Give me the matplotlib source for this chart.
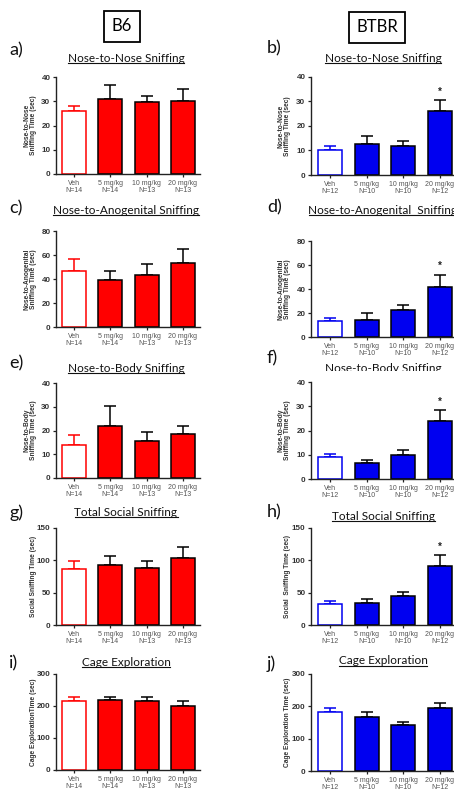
import matplotlib
matplotlib.use("Agg")
import matplotlib.pyplot as plt
from matplotlib.patches import Rectangle
from matplotlib.lines import Line2D

W, H = 454, 789

doses = ["Veh", "5 mg/kg", "10 mg/kg", "20 mg/kg"]
n_b6 = [14, 14, 13, 13]
n_btbr = [12, 10, 10, 12]

titles = ["Nose-to-Nose Sniffing", "Nose-to-Anogenital Sniffing", "Nose-to-Body Sniffing",
          "Total Social Sniffing", "Cage Exploration"]
titles_btbr = ["Nose-to-Nose Sniffing", "Nose-to-Anogenital  Sniffing", "Nose-to-Body Sniffing",
               "Total Social Sniffing", "Cage Exploration"]
ylabels_b6 = ["Nose-to-Nose\nSniffing Time (sec)", "Nose-to-Anogenital\nSniffing Time (sec)",
              "Nose-to-Body\nSniffing Time (sec)", "Social Sniffing Time (sec)",
              "Cage ExplorationTime (sec)"]
ylabels_btbr = ["Nose-to-Nose\nSniffing Time (sec)", "Nose-to-Anogenital\nSniffing Time (sec)",
                "Nose-to-Body\nSniffing Time (sec)", "Social  Sniffing Time (sec)",
                "Cage Exploration Time (sec)"]
ymax = [40, 80, 40, 150, 300]
ystep = [10, 20, 10, 50, 100]

b6_mean = [[26, 31, 29.5, 30], [46.5, 39.5, 43.5, 53.5], [14, 22, 15.5, 18.5],
           [87, 93, 88, 104], [217, 219, 217, 200]]
b6_sem = [[2, 5.5, 2.5, 5], [10, 7.5, 9, 11.5], [4, 8.5, 4, 3.5],
          [12, 13, 11, 16], [12, 10, 10, 16]]
btbr_mean = [[10, 12.5, 12, 26], [13.5, 14.5, 22.5, 42], [9, 6.5, 9.8, 24],
             [33, 33.5, 44.5, 92], [181, 168, 142, 195]]
btbr_sem = [[2, 3.5, 2, 4.5], [2, 5.5, 4.5, 10], [1.5, 1.3, 2.2, 4.5],
            [4, 7, 6.5, 16], [13, 13, 11, 15]]
btbr_sig = [[0, 0, 0, 1], [0, 0, 0, 1], [0, 0, 0, 1], [0, 0, 0, 1], [0, 0, 0, 0]]

letters_b6 = ["a)", "c)", "e)", "g)", "i)"]
letters_btbr = ["b)", "d)", "f)", "h)", "j)"]

# layout in pixels: (top, bottom) of each axes
rows_b6 = [(77, 174), (231, 327), (383, 478), (528, 625), (674, 770)]
rows_btbr = [(77, 175), (241, 337), (382, 479), (528, 625), (674, 771)]
title_y_b6 = [58, 210, 368, 512, 662]
title_y_btbr = [58, 210, 369, 516, 661]
letter_y_b6 = [50, 208, 363, 513, 663]
letter_y_btbr = [48, 207, 358, 512, 664]

RED = "#FF0000"
BLUE = "#0000F0"
SANS = ["Liberation Sans", "DejaVu Sans"]
CAL = ["Lato", "DejaVu Sans"]

fig = plt.figure(figsize=(W / 100, H / 100), dpi=100)
fig.patch.set_facecolor("white")


def fx(px):
    return px / W


def fy(py):
    return 1 - py / H


def panel(left, right, top, bottom, xlo, xhi, means, sems, color, ns, ymx, ystp, ylabel, labx, sig):
    ax = fig.add_axes([fx(left), fy(bottom), (right - left) / W, (bottom - top) / H])
    x = list(range(len(means)))
    for i, (m, s) in enumerate(zip(means, sems)):
        if i == 0:
            ax.bar(i, m, width=0.66, color="white", edgecolor=color, linewidth=1.1, zorder=2)
            ec = color
        else:
            ax.bar(i, m, width=0.66, color=color, edgecolor="black", linewidth=1.1, zorder=2)
            ec = "black"
        ax.errorbar(i, m, yerr=[[0], [s]], fmt="none", ecolor=ec, elinewidth=1.1,
                    capsize=4, capthick=1.1, zorder=1)
        if sig[i]:
            ax.text(i, m + s + ymx * 0.035, "*", ha="center", va="bottom",
                    fontsize=7, fontweight="bold", family=SANS, color="#222222")
    ax.set_xlim(xlo, xhi)
    ax.set_ylim(0, ymx)
    ax.set_yticks(list(range(0, ymx + 1, ystp)))
    ax.set_xticks(x)
    ax.set_xticklabels([f"{d}\nN={n}" for d, n in zip(doses, ns)], fontsize=5,
                       family=SANS, color="#555555", linespacing=1.15)
    for t in ax.get_yticklabels():
        t.set_fontsize(5.8)
        t.set_fontweight("bold")
        t.set_family(SANS)
        t.set_color("#333333")
    ax.tick_params(axis="both", length=2.5, width=0.9, pad=1.5, colors="#222222")
    ax.tick_params(axis="x", labelcolor="#555555")
    ax.tick_params(axis="y", labelcolor="#333333")
    for sp in ["top", "right"]:
        ax.spines[sp].set_visible(False)
    for sp in ["left", "bottom"]:
        ax.spines[sp].set_linewidth(1.0)
        ax.spines[sp].set_color("#222222")
    ax.set_ylabel(ylabel, fontsize=4.8, fontweight="bold", family=SANS, color="#333333",
                  linespacing=1.0)
    ax.yaxis.set_label_coords(labx, 0.5)
    return ax


title_texts = []
for k in range(5):
    t, b = rows_b6[k]
    panel(56, 200, t, b, -0.5, 3.47, b6_mean[k], b6_sem[k], RED, n_b6, ymax[k], ystep[k],
          ylabels_b6[k], -0.13, [0, 0, 0, 0])
    t, b = rows_btbr[k]
    panel(311, 457, t, b, -0.52, 3.47, btbr_mean[k], btbr_sem[k], BLUE, n_btbr, ymax[k], ystep[k],
          ylabels_btbr[k], -0.135, btbr_sig[k])

    title_texts.append(fig.text(fx(126), fy(title_y_b6[k]), titles[k], ha="center", va="center",
                                fontsize=8.5, family=CAL, color="#111111"))
    title_texts.append(fig.text(fx(383), fy(title_y_btbr[k]), titles_btbr[k], ha="center",
                                va="center", fontsize=8.5, family=CAL, color="#111111"))
    fig.text(fx(9), fy(letter_y_b6[k]), letters_b6[k], ha="left", va="center",
             fontsize=13, family=CAL, color="#111111")
    fig.text(fx(267), fy(letter_y_btbr[k]), letters_btbr[k], ha="left", va="center",
             fontsize=13, family=CAL, color="#111111")

# strain boxes
fig.text(fx(122), fy(26), "B6", ha="center", va="center", fontsize=12, family=CAL,
         bbox=dict(boxstyle="square,pad=0.45", fc="white", ec="black", lw=1.3))
fig.text(fx(377), fy(27), "BTBR", ha="center", va="center", fontsize=12, family=CAL,
         bbox=dict(boxstyle="square,pad=0.45", fc="white", ec="black", lw=1.3))

# underline titles
fig.canvas.draw()
r = fig.canvas.get_renderer()
for t in title_texts:
    bb = t.get_window_extent(renderer=r)
    yl = bb.y0 + 1.0
    fig.add_artist(Line2D([bb.x0 / W, bb.x1 / W], [yl / H, yl / H], transform=fig.transFigure,
                          color="#111111", lw=0.8))

# the cropped title in panel f
fig.add_artist(Rectangle((fx(270), fy(380)), (W - 270) / W, 9 / H, transform=fig.transFigure,
                         facecolor="white", edgecolor="none", zorder=5))

fig.savefig("out.png", dpi=100)
